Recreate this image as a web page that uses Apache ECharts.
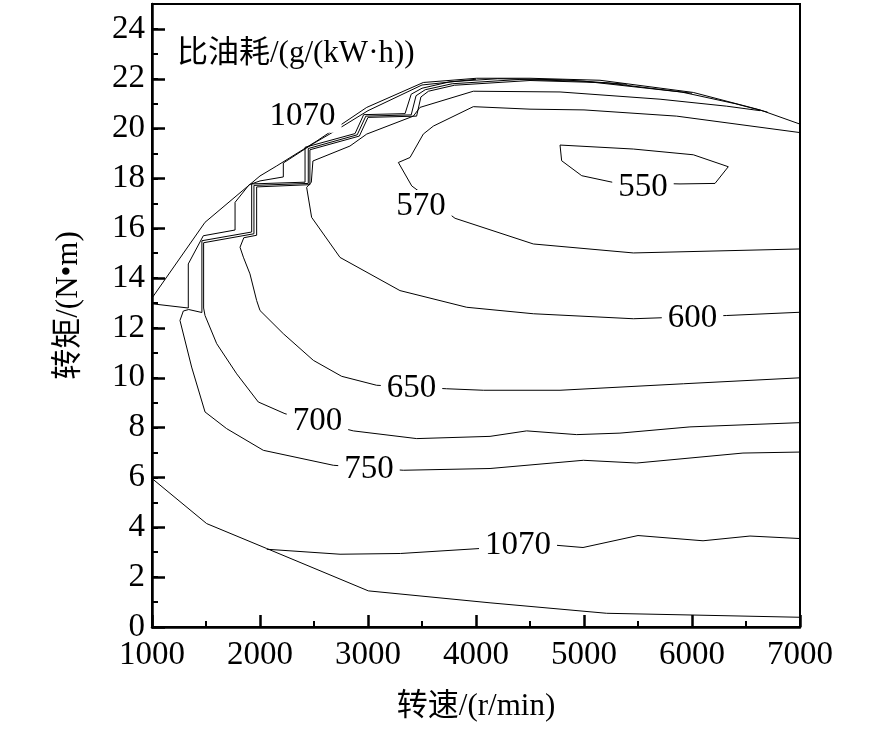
<!DOCTYPE html>
<html><head><meta charset="utf-8">
<script src="https://cdn.jsdelivr.net/npm/echarts@6/dist/echarts.min.js"></script>
<style>html,body{margin:0;padding:0;background:#fff}#c{width:886px;height:729px}</style>
</head><body><div id="c"></div>
<script>
// ---- data (speed r/min, torque N·m) ----
const envelope = [[1000,13.2],[1491,16.24],[2000,18.1],[2154,18.5],[2525,19.5],[2988,20.85],[3512,21.85],[4006,22.02],[4500,22.02],[5148,21.94],[5395,21.8],[6012,21.45],[6630,20.75],[7000,20.18]];
const c1070Upper = [[1000,12.97],[1336,12.8],[1336,14.57],[1475,15.7],[1769,15.93],[1769,17.04],[1900,17.75],[2000,17.9],[2216,18.06],[2216,18.62],[2494,19.4],[2700,19.92],[3000,20.72],[3500,21.75],[4000,21.98]];
const c750 = [[7000,7.02],[6472,6.98],[5488,6.58],[4994,6.69],[4130,6.36],[3327,6.29],[2679,6.49],[2031,7.09],[1691,7.96],[1491,8.63],[1367,10.43],[1259,12.3],[1290,12.68],[1340,12.74],[1462,12.62],[1462,15.5],[1923,15.85],[1923,17.78],[2417,17.85],[2417,19.25],[2880,19.8],[2960,20.56],[3343,20.6],[3400,21.38],[3500,21.62],[3760,21.88],[4200,22.0],[4800,21.96],[5400,21.78]];
const c700 = [[7000,8.2],[5981,8.03],[5333,7.78],[4932,7.72],[4469,7.87],[4130,7.65],[3451,7.56],[2864,7.87],[2231,8.56],[1984,9.03],[1784,10.16],[1599,11.37],[1491,12.5],[1478,12.8],[1478,15.42],[1944,15.78],[1944,17.72],[2447,17.8],[2447,19.2],[2900,19.75],[2980,20.5],[3400,20.55],[3445,21.32],[3530,21.56],[3780,21.8],[4400,21.97],[5000,21.9],[6000,21.42]];
const c650 = [[7000,10.0],[5920,9.76],[4778,9.5],[4068,9.5],[3728,9.56],[3080,9.7],[2756,10.06],[2494,10.7],[2216,11.77],[2000,12.7],[1969,13.1],[1907,14.17],[1846,14.84],[1815,15.24],[1850,15.62],[1969,15.72],[1969,17.66],[2462,17.75],[2462,19.15],[2920,19.7],[3000,20.45],[3450,20.5],[3490,21.27],[3560,21.5],[3800,21.74],[4500,21.93],[5200,21.84],[5900,21.47],[6400,21.0],[6700,20.66]];
const c600 = [[7000,12.63],[6321,12.5],[5457,12.37],[4531,12.57],[3914,12.83],[3296,13.5],[2741,14.83],[2478,16.44],[2432,17.64],[2475,17.85],[2490,18.7],[2833,19.3],[2988,19.78],[3420,20.5],[3481,20.85],[3975,21.5],[4778,21.47],[5704,21.18],[6321,20.9],[6630,20.72]];
const c570 = [[7000,15.17],[5457,15.01],[4531,15.37],[3806,16.4],[3405,17.7],[3281,18.64],[3389,18.84],[3512,19.78],[3605,20.1],[3975,20.88],[4500,20.78],[5000,20.75],[5858,20.5],[7000,19.84]];
const c550 = [[4778,19.34],[4793,18.71],[4979,18.11],[5271,17.84],[5889,17.78],[6213,17.8],[6336,18.47],[6012,18.95],[5457,19.18],[4778,19.34]];
const c1070Lower = [[2062,3.12],[2741,2.92],[3300,2.95],[4037,3.15],[4713,3.29],[4991,3.19],[5500,3.67],[6102,3.46],[6537,3.65],[7000,3.55]];
const bottomBoundary = [[1000,5.96],[1506,4.15],[2062,3.15],[3003,1.45],[4130,0.97],[5210,0.55],[6009,0.48],[7000,0.39]];
const contourLabels = [[2394,20.5,'1070'],[3490,16.87,'570'],[5546,17.65,'550'],[6005,12.37,'600'],[3403,9.57,'650'],[2532,8.25,'700'],[3009,6.33,'750'],[4389,3.29,'1070']];
const chartTitle = '比油耗/(g/(kW·h))';
const xName = '转速/(r/min)';
const yName = '转矩/(N•m)';

const serif = "'Liberation Serif', 'Times New Roman', 'Noto Sans CJK SC', serif";
const lines = [envelope, c1070Upper, c750, c700, c650, c600, c570, c550, c1070Lower, bottomBoundary];

const chart = echarts.init(document.getElementById('c'), null, {renderer: 'canvas'});
const series = lines.map(d => ({
  type: 'line', data: d, showSymbol: false, symbol: 'none', silent: true,
  lineStyle: {color: '#000', width: 1}, z: 2, animation: false
}));
series.push({
  type: 'scatter', data: contourLabels, symbolSize: 0, z: 5, silent: true,
  encode: {x: 0, y: 1},
  itemStyle: {color: '#000', opacity: 1},
  label: {show: true, position: 'inside', formatter: p => p.value[2],
    fontFamily: serif, fontSize: 33, color: '#000', opacity: 1,
    textBorderWidth: 0, textBorderColor: 'transparent',
    backgroundColor: '#fff', padding: [0, 6]},
  animation: false
});

chart.setOption({
  backgroundColor: '#fff',
  animation: false,
  title: {text: chartTitle, left: 172, top: 33,
    textStyle: {fontFamily: serif, fontSize: 31, fontWeight: 'normal', color: '#000'}},
  grid: {left: 152, right: 86, top: 4, bottom: 102, show: true, borderColor: '#000', borderWidth: 2, backgroundColor: 'transparent'},
  xAxis: {
    type: 'value', min: 1000, max: 7000, interval: 1000,
    name: xName, nameLocation: 'middle', nameGap: 64,
    nameTextStyle: {fontFamily: serif, fontSize: 31, color: '#000'},
    axisLine: {show: true, lineStyle: {color: '#000', width: 2.5}},
    axisTick: {show: true, inside: true, length: 12, lineStyle: {color: '#000', width: 2.5}},
    minorTick: {show: true, splitNumber: 2, length: 6, lineStyle: {color: '#000', width: 2}},
    axisLabel: {fontFamily: serif, fontSize: 33, color: '#000', margin: 12, formatter: v => String(v)},
    splitLine: {show: false}
  },
  yAxis: [{
    type: 'value', min: 0, max: 25, interval: 2,
    name: yName, nameLocation: 'middle', nameGap: 68, nameRotate: 90,
    nameTextStyle: {fontFamily: serif, fontSize: 31, color: '#000', padding: [0, 0, 0, 20]},
    axisLine: {show: true, lineStyle: {color: '#000', width: 2.5}},
    axisTick: {show: true, inside: true, length: 13, lineStyle: {color: '#000', width: 2.5}},
    axisLabel: {fontFamily: serif, fontSize: 33, color: '#000', margin: 7, showMaxLabel: false, formatter: v => String(v)},
    splitLine: {show: false}
  }, {
    type: 'value', min: 0, max: 25, interval: 1, position: 'left',
    axisLine: {show: false},
    axisTick: {show: true, inside: true, length: 6, lineStyle: {color: '#000', width: 2}},
    axisLabel: {show: false}, splitLine: {show: false}
  }],
  series: series
});
</script></body></html>
